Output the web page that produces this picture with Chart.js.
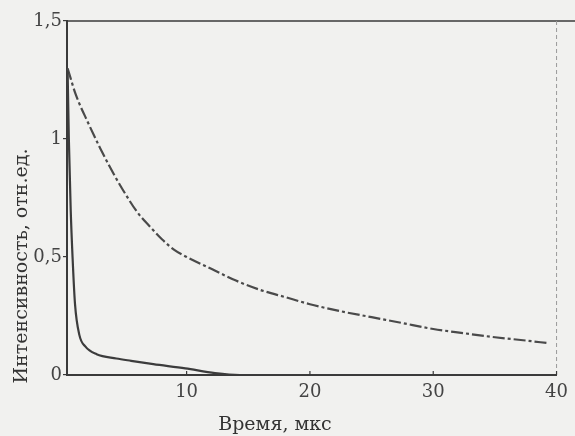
<!DOCTYPE html>
<html><head><meta charset="utf-8">
<script src="https://cdn.jsdelivr.net/npm/chart.js@4"></script>
<style>html,body{margin:0;padding:0;background:#f1f1ef;}#wrap{width:575px;height:436px;}</style>
</head><body><div id="wrap"><canvas id="c" width="575" height="436"></canvas></div>
<script>
const xTicks = [10, 20, 30, 40];
const yTicks = [0, 0.5, 1, 1.5];
const xTitle = 'Время, мкс';
const yTitle = 'Интенсивность, отн.ед.';
const solidX = [0.35, 0.45, 0.6, 0.75, 0.95, 1.3, 1.8, 2.7, 4.3, 5.5, 7.3, 9.9, 12.3, 14.3, 20, 30, 40];
const solidY = [1.29, 1.0, 0.7, 0.5, 0.3, 0.17, 0.12, 0.088, 0.07, 0.06, 0.046, 0.028, 0.008, 0, 0, 0, 0];
const dashX = [0.35, 1, 2, 3, 4, 5, 6, 7, 8, 9, 10, 12, 14, 16, 18, 20, 22.5, 25, 27.5, 30, 32.5, 35, 37.5, 39.3];
const dashY = [1.30, 1.19, 1.07, 0.96, 0.86, 0.77, 0.69, 0.63, 0.575, 0.53, 0.50, 0.45, 0.40, 0.36, 0.33, 0.30, 0.27, 0.245, 0.22, 0.195, 0.177, 0.16, 0.146, 0.135];

const ink = '#3a3a3a';
const serif = '"DejaVu Serif", "Liberation Serif", serif';

const frame = {
  id: 'frame',
  afterDraw(chart) {
    const {ctx, chartArea: a, scales} = chart;
    ctx.save();
    ctx.strokeStyle = ink; ctx.lineWidth = 1.5;
    ctx.beginPath(); ctx.moveTo(a.left, a.top); ctx.lineTo(chart.width, a.top); ctx.stroke();
    ctx.strokeStyle = '#9a9a9a'; ctx.lineWidth = 1; ctx.setLineDash([4, 3]);
    ctx.beginPath(); ctx.moveTo(a.right, a.top); ctx.lineTo(a.right, a.bottom - 4); ctx.stroke();
    ctx.setLineDash([]);
    ctx.strokeStyle = ink; ctx.lineWidth = 1.2;
    xTicks.forEach(v => {
      const px = scales.x.getPixelForValue(v);
      ctx.beginPath(); ctx.moveTo(px, a.bottom); ctx.lineTo(px, a.bottom - 4); ctx.stroke();
    });
    ctx.fillStyle = '#333';
    ctx.font = '19px ' + serif;
    ctx.textAlign = 'center'; ctx.textBaseline = 'middle';
    ctx.fillText(xTitle, 275, 425);
    ctx.translate(22, 266); ctx.rotate(-Math.PI / 2);
    ctx.font = '19px ' + serif;
    ctx.fillText(yTitle, 0, 0);
    ctx.restore();
  }
};

new Chart(document.getElementById('c'), {
  type: 'line',
  data: {
    datasets: [
      { data: solidX.map((x, i) => ({x, y: solidY[i]})), borderColor: '#3c3c3c', borderWidth: 2.2,
        pointRadius: 0, cubicInterpolationMode: 'monotone', fill: false },
      { data: dashX.map((x, i) => ({x, y: dashY[i]})), borderColor: '#4a4a4a', borderWidth: 2.2,
        borderDash: [12, 3, 3, 3], pointRadius: 0, cubicInterpolationMode: 'monotone', fill: false }
    ]
  },
  options: {
    responsive: false, animation: false,
    layout: { padding: { top: 21, right: 15, left: 0, bottom: 0 } },
    plugins: { legend: { display: false }, tooltip: { enabled: false } },
    scales: {
      x: {
        type: 'linear', min: 0.3, max: 40,
        afterBuildTicks: s => { s.ticks = xTicks.map(v => ({value: v})); },
        afterFit: s => { s.height = 61; },
        grid: { display: true, drawOnChartArea: false, drawTicks: false },
        border: { display: true, color: ink, width: 2 },
        ticks: { padding: 7, color: '#444', font: { family: serif, size: 18 }, maxRotation: 0,
                 callback: v => String(v) }
      },
      y: {
        type: 'linear', min: 0, max: 1.5,
        afterBuildTicks: s => { s.ticks = yTicks.map(v => ({value: v})); },
        afterFit: s => { s.width = 67; },
        grid: { display: true, drawOnChartArea: false, drawTicks: true, tickLength: 4, color: ink, lineWidth: 1.2 },
        border: { display: true, color: ink, width: 2 },
        ticks: { padding: 1, color: '#444', font: { family: serif, size: 18 },
                 callback: v => String(v).replace('.', ',') }
      }
    }
  },
  plugins: [frame]
});
</script></body></html>
